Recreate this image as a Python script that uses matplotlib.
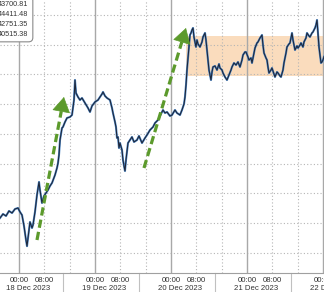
import matplotlib
matplotlib.use('Agg')
import matplotlib.pyplot as plt

plt.rcParams['font.family'] = ['Liberation Sans', 'DejaVu Sans']

# hours since 18 Dec 2023 00:00 and price
hours = [-6.0, -5.05, -4.1, -3.16, -2.21, -1.26, -0.32, 0.32, 0.95, 1.58, 1.89, 2.21, 2.53, 2.84,
         3.47, 4.11, 4.42, 5.05, 5.68, 6.32, 6.63, 7.26, 7.89, 8.53, 9.16, 9.79, 10.42, 11.37,
         12.0, 12.32, 12.63, 12.95, 13.58, 13.89, 14.53, 15.16, 16.11, 16.74, 17.05, 17.37, 17.68,
         18.0, 18.63, 19.26, 19.89, 20.84, 21.79, 22.42, 23.05, 24.0, 24.95, 25.58, 26.21, 26.53,
         27.16, 27.79, 28.74, 29.37, 29.68, 30.32, 30.63, 30.95, 31.26, 31.58, 31.89, 32.53, 32.84,
         33.16, 33.47, 33.79, 34.42, 35.05, 35.68, 36.32, 37.26, 37.89, 38.84, 39.79, 40.42, 41.37,
         42.32, 42.95, 43.89, 44.53, 45.47, 46.11, 46.74, 47.68, 48.32, 49.26, 49.89, 50.84, 51.47,
         52.11, 52.42, 52.74, 53.05, 53.37, 53.68, 54.0, 54.32, 54.63, 54.95, 55.26, 55.89, 56.21,
         56.53, 57.16, 57.79, 58.11, 58.74, 59.05, 59.37, 59.68, 60.0, 60.32, 60.63, 60.95, 61.26,
         61.89, 62.53, 63.16, 63.47, 64.11, 64.42, 65.05, 65.68, 66.32, 66.95, 67.26, 67.89, 68.53,
         69.16, 69.79, 70.42, 70.74, 71.37, 71.68, 72.32, 72.63, 73.26, 73.58, 74.21, 74.53, 75.16,
         75.47, 76.11, 76.74, 77.05, 77.37, 78.0, 78.32, 78.63, 78.95, 79.58, 79.89, 80.53, 80.84,
         81.47, 81.79, 82.42, 82.74, 83.37, 83.68, 84.32, 84.63, 85.26, 85.58, 86.21, 86.53, 87.16,
         87.79, 88.11, 88.74, 89.05, 89.68, 90.0, 90.63, 90.95, 91.58, 91.89, 92.53, 92.84, 93.47,
         93.79, 94.11, 94.42, 94.74, 95.05, 95.37, 95.68, 96.0, 96.32]
prices = [40988, 41055, 41022, 41106, 41072, 41139, 41156, 41089, 41038, 40854, 40736, 40618, 40515, 40652,
          40921, 40820, 40870, 41089, 41374, 41593, 41458, 41240, 41358, 41408, 41458, 41526, 41576, 41710,
          41828, 41912, 42046, 42298, 42500, 42517, 42601, 42668, 42685, 42718, 42836, 42970, 43306,
          43088, 43021, 42970, 43004, 42920, 42836, 42769, 42870, 42937, 42970, 43021, 43071, 43105,
          43038, 43004, 42970, 42836, 42752, 42601, 42517, 42332, 42349, 42164, 42248, 42130, 41962,
          41862, 41778, 41962, 42248, 42298, 42349, 42265, 42298, 42366, 42248, 42332, 42382, 42466,
          42517, 42584, 42634, 42702, 42802, 42752, 42769, 42702, 42718, 42802, 42752, 42718, 42802,
          42903, 43021, 43222, 43474, 43676, 43861, 44062, 44096, 44146, 44180, 44029, 43861, 43978,
          43911, 43861, 43945, 44029, 44096, 43978, 43810, 43642, 43474, 43390, 43306, 43441, 43525,
          43542, 43474, 43575, 43508, 43474, 43424, 43357, 43306, 43390, 43474, 43525, 43592, 43558,
          43609, 43525, 43642, 43726, 43777, 43777, 43693, 43642, 43676, 43592, 43760, 43844, 43928,
          43945, 44012, 44062, 43894, 43760, 43676, 43642, 43525, 43424, 43474, 43508, 43407, 43357,
          43441, 43424, 43374, 43357, 43474, 43592, 43760, 43861, 43911, 43928, 44096, 43978, 43810,
          43878, 43844, 43894, 43928, 43861, 43945, 44012, 44096, 44046, 44029, 44096, 44113, 44180,
          44230, 44314, 44096, 43861, 43726, 43592, 43609, 43642, 43700]

stats = ['43700.81', '44411.48', '42751.35', '40515.38']
days = ['18 Dec 2023', '19 Dec 2023', '20 Dec 2023', '21 Dec 2023', '22 Dec 2023']

# green trend arrows: (tail hour, tail price, tip hour, tip price)
arrows = [(5.68, 40618, 14.2, 43021), (39.47, 41828, 52.74, 44180)]
# consolidation range
band_start, band_lo, band_hi = 52.74, 43374, 44046

green = '#5c9a2c'
grid_c = '#b5b5b5'

fig = plt.figure(figsize=(3.24, 2.92), dpi=100)
ax = fig.add_axes([0, 19 / 292, 1, 273 / 292])
ax.set_xlim(-6, 96.32)
ax.set_ylim(40064, 44650)

# grid
for k in range(9):
    ax.axhline(40400 + 500 * k, color=grid_c, lw=0.8, ls=(0, (1, 2)), zorder=1)
for d in range(-1, 5):
    ax.axvline(24 * d, color='#a8a8a8', lw=1.0, zorder=1)
    ax.axvline(24 * d + 8, color=grid_c, lw=0.8, ls=(0, (1, 2)), zorder=1)
    ax.axvline(24 * d + 16, color=grid_c, lw=0.8, ls=(0, (1, 2)), zorder=1)

ax.fill_between([band_start, 100], band_lo, band_hi, color='#fadcbd', lw=0, zorder=0.5)

ax.plot(hours, prices, color='#4a84c4', lw=1.5, zorder=3)
ax.plot(hours, prices, color='#1e2638', lw=0.75, zorder=4)

for x0, y0, x1, y1 in arrows:
    # stop the dashed shaft a bit short of the head
    xs = x0 + (x1 - x0) * 0.9
    ys = y0 + (y1 - y0) * 0.9
    ax.plot([x0, xs], [y0, ys], color=green, lw=2.3, ls=(0, (2.6, 1.3)),
            solid_capstyle='butt', zorder=5)
    ax.annotate('', xy=(x1, y1), xytext=(xs, ys),
                arrowprops=dict(arrowstyle='-|>,head_length=1.0,head_width=0.6',
                                color=green, lw=0.5, shrinkA=0, shrinkB=0,
                                mutation_scale=10), zorder=6)

for s in ['top', 'left', 'right']:
    ax.spines[s].set_visible(False)
ax.spines['bottom'].set_color('#a0a0a0')
ax.spines['bottom'].set_linewidth(0.8)
ax.set_xticks([])
ax.set_yticks([])

tr = ax.get_xaxis_transform()
for d, lab in enumerate(days):
    ax.text(24 * d, -7 / 273, '00:00', transform=tr, ha='center', va='center',
            fontsize=5.6, color='#333333', clip_on=False)
    ax.text(24 * d + 8, -7 / 273, '08:00', transform=tr, ha='center', va='center',
            fontsize=5.6, color='#333333', clip_on=False)
    ax.text(24 * d + 3, -15.5 / 273, lab, transform=tr, ha='center', va='center',
            fontsize=5.6, color='#333333', clip_on=False)
    ax.plot([24 * d + 14, 24 * d + 14], [0, -0.08], transform=tr, color='#c0c0c0',
            lw=0.8, clip_on=False)

fig.text(28.5 / 324, 1 - 0.5 / 292, '\n'.join(stats), ha='right', va='top',
         fontsize=5.2, color='#333333', linespacing=1.6,
         bbox=dict(boxstyle='round,pad=0.6', fc='white', ec='#8a8a8a', lw=0.8))

plt.savefig('out.png', dpi=100)
